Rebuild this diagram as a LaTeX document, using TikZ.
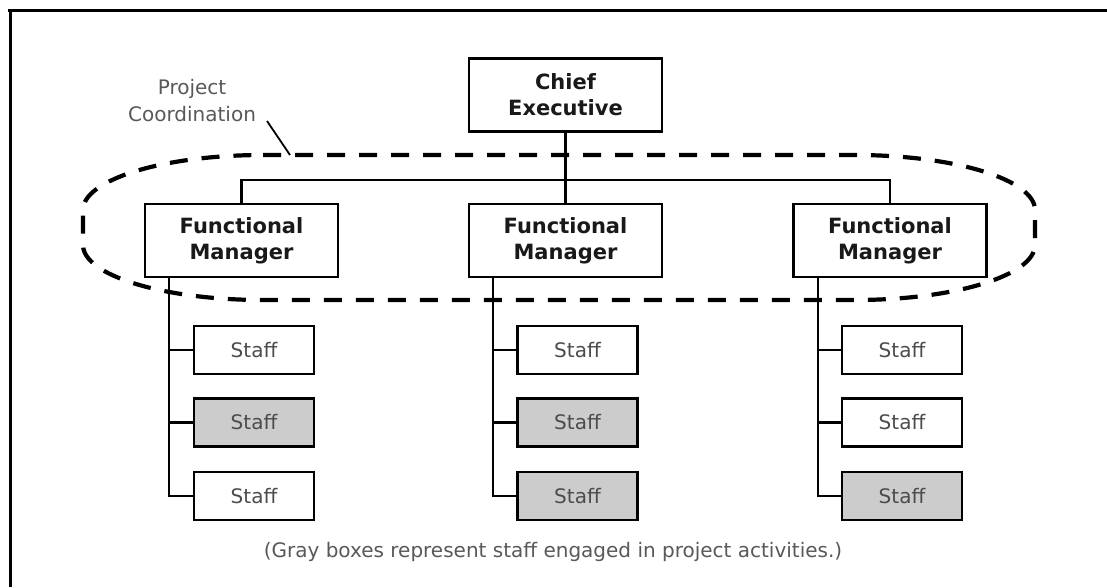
\documentclass[tikz,border=0pt]{standalone}
\usepackage{fontspec}
\setmainfont{DejaVu Sans}
\begin{document}
\begin{tikzpicture}[x=1pt,y=-1pt,
  boss/.style={draw=black,line width=2.4pt,fill=white,minimum width=193pt,minimum height=73pt,
    inner sep=0pt,align=center,font=\bfseries\fontsize{21}{26}\selectfont,text=black!90},
  staffbox/.style={draw=black,line width=2.4pt,fill=white,minimum width=120pt,minimum height=48pt,
    inner sep=0pt,font=\fontsize{20}{24}\selectfont,text=black!70},
  busy/.style={staffbox,fill=black!20},
  wire/.style={draw=black,line width=2.2pt},
  coord/.style={draw=black,line width=4.2pt,dash pattern=on 18pt off 14pt}]

% page and frame
\useasboundingbox (0,0) rectangle (1107,587);
\fill[white] (0,0) rectangle (1107,587);
\draw[line width=3pt] (8,10) -- (1107,10);
\draw[line width=3pt] (10,10) -- (10,587);

% project coordination outline
\draw[coord] (263,155) -- (855,155)
  .. controls (954.4,155) and (1035,179.6) .. (1035,210) -- (1035,245)
  .. controls (1035,275.4) and (954.4,300) .. (855,300) -- (263,300)
  .. controls (163.6,300) and (83,275.4) .. (83,245) -- (83,210)
  .. controls (83,179.6) and (163.6,155) .. (263,155) -- cycle;

\node[align=center,font=\fontsize{20}{27}\selectfont,text=black!65] (pclabel) at (192,101) {Project\\Coordination};
\coordinate (leadstart) at (267,121);
\coordinate (leadend) at (290,155);
\draw[line width=1.8pt] (leadstart) -- (leadend);

% hierarchy
\node[boss] (ce) at (565.5,95) {Chief\\Executive};
\node[boss] (fm1) at (241.5,240.5) {Functional\\Manager};
\node[boss] (fm2) at (565.5,240.5) {Functional\\Manager};
\node[boss] (fm3) at (890,240.5) {Functional\\Manager};

\coordinate (bus) at (565.5,180);
\draw[wire] (ce.south) -- (fm2.north);
\draw[wire] (fm1.north) |- (bus) -| (fm3.north);

% staff columns
\node[staffbox] (s11) at (254,350) {Staff};
\node[busy]     (s12) at (254,422.5) {Staff};
\node[staffbox] (s13) at (254,496) {Staff};

\node[staffbox] (s21) at (577.5,350) {Staff};
\node[busy]     (s22) at (577.5,422.5) {Staff};
\node[busy]     (s23) at (577.5,496) {Staff};

\node[staffbox] (s31) at (902,350) {Staff};
\node[staffbox] (s32) at (902,422.5) {Staff};
\node[busy]     (s33) at (902,496) {Staff};

\coordinate (t1) at (169,277);
\coordinate (t2) at (493,277);
\coordinate (t3) at (818,277);

\foreach \c in {1,2,3}{
  \draw[wire] (t\c) |- (s\c3.west);
  \draw[wire] (t\c |- s\c1.west) -- (s\c1.west);
  \draw[wire] (t\c |- s\c2.west) -- (s\c2.west);
}

\node[font=\fontsize{20}{24}\selectfont,text=black!65] (note) at (553,552)
  {(Gray boxes represent staff engaged in project activities.)};
\end{tikzpicture}
\end{document}
